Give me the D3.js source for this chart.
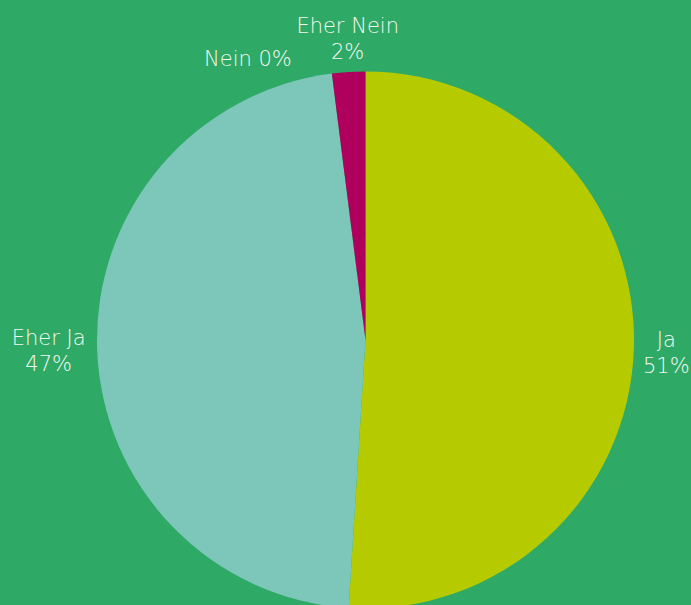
<!DOCTYPE html>
<html><head><meta charset="utf-8">
<script src="https://cdn.jsdelivr.net/npm/d3@7"></script>
<style>
html,body{margin:0;padding:0;background:#2EAA66;}
svg{display:block;}
text{font-family:"DejaVu Sans",sans-serif;font-weight:300;fill:#F4F7F0;}
</style></head>
<body>
<svg id="chart" width="691" height="605"></svg>
<script>
const categories = ["Ja", "Eher Ja", "Nein", "Eher Nein"];
const values = [51.0, 47.0, 0.0, 2.0];
const pctLabels = ["51%", "47%", "0%", "2%"];
const colors = ["#B5CB00", "#7CC7B9", "#2E75B6", "#B0005E"];

const W = 691, H = 605;
const cx = 365.5, cy = 340, R = 268.5;
const svg = d3.select("#chart");
svg.append("rect").attr("width", W).attr("height", H).attr("fill", "#2EAA66");

const pie = d3.pie().sort(null).value(d => d.v);
const data = categories.map((c, i) => ({c, v: values[i], p: pctLabels[i], col: colors[i]}));
const arcs = pie(data);
const arc = d3.arc().innerRadius(0).outerRadius(R);
const g = svg.append("g").attr("transform", `translate(${cx},${cy})`);
g.selectAll("path").data(arcs).enter().append("path")
  .attr("d", arc).attr("fill", d => d.data.col);

// label layout: radius, nudges, two-line?
const labelLayout = {
  "Ja": {r: 300, dx: 1, dy: -2, two: true},
  "Eher Ja": {r: 300, dx: -17, dy: -4, two: true},
  "Nein": {r: 300, dx: -80, dy: 11, two: false},
  "Eher Nein": {r: 300, dx: 1, dy: -8, two: true}
};
const fs = 21;
arcs.forEach(a => {
  const L = labelLayout[a.data.c];
  const ang = (a.startAngle + a.endAngle) / 2;
  const x = Math.sin(ang) * L.r + L.dx;
  const y = -Math.cos(ang) * L.r + L.dy;
  const t = g.append("text").attr("text-anchor", "middle").style("font-size", fs + "px");
  if (L.two) {
    t.append("tspan").attr("x", x).attr("y", y).text(a.data.c);
    t.append("tspan").attr("x", x).attr("y", y + 26).text(a.data.p);
  } else {
    t.attr("x", x).attr("y", y + 13).text(a.data.c + " " + a.data.p);
  }
});
</script>
</body></html>
